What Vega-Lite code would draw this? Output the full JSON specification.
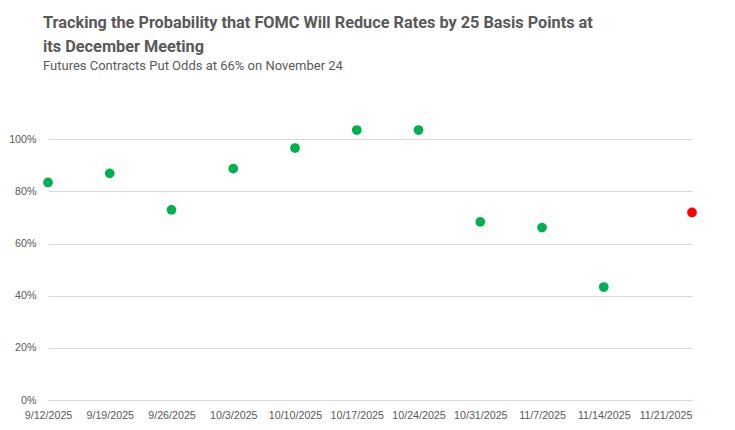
{
  "$schema": "https://vega.github.io/schema/vega-lite/v6.json",
  "width": 644,
  "height": 313,
  "autosize": {"type": "none"},
  "padding": {"left": 48, "top": 87, "right": 43, "bottom": 30},
  "background": "white",
  "config": {"view": {"stroke": null}},
  "title": {
    "text": ["Tracking the Probability that FOMC Will Reduce Rates by 25 Basis Points at", "its December Meeting"],
    "subtitle": "Futures Contracts Put Odds at 66% on November 24",
    "anchor": "start",
    "frame": "group",
    "dx": -5,
    "font": "Roboto",
    "fontSize": 16.3,
    "fontWeight": "bold",
    "color": "#595959",
    "lineHeight": 24,
    "subtitleFont": "Roboto",
    "subtitleFontSize": 13,
    "subtitleColor": "#595959",
    "subtitlePadding": 5,
    "offset": 14
  },
  "data": {
    "values": [
      {"date": "2025-09-12T00:00:00", "prob": 0.834, "kind": "past"},
      {"date": "2025-09-19T00:00:00", "prob": 0.869, "kind": "past"},
      {"date": "2025-09-26T00:00:00", "prob": 0.729, "kind": "past"},
      {"date": "2025-10-03T00:00:00", "prob": 0.887, "kind": "past"},
      {"date": "2025-10-10T00:00:00", "prob": 0.966, "kind": "past"},
      {"date": "2025-10-17T00:00:00", "prob": 1.035, "kind": "past"},
      {"date": "2025-10-24T00:00:00", "prob": 1.035, "kind": "past"},
      {"date": "2025-10-31T00:00:00", "prob": 0.683, "kind": "past"},
      {"date": "2025-11-07T00:00:00", "prob": 0.661, "kind": "past"},
      {"date": "2025-11-14T00:00:00", "prob": 0.433, "kind": "past"},
      {"date": "2025-11-24T00:00:00", "prob": 0.719, "kind": "latest"}
    ]
  },
  "mark": {"type": "point", "filled": true, "opacity": 1, "size": 95, "shape": "circle"},
  "encoding": {
    "x": {
      "field": "date",
      "type": "temporal",
      "scale": {"domain": [{"year": 2025, "month": 9, "date": 12}, {"year": 2025, "month": 11, "date": 24}]},
      "axis": {
        "title": null,
        "values": [
          {"year": 2025, "month": 9, "date": 12},
          {"year": 2025, "month": 9, "date": 19},
          {"year": 2025, "month": 9, "date": 26},
          {"year": 2025, "month": 10, "date": 3},
          {"year": 2025, "month": 10, "date": 10},
          {"year": 2025, "month": 10, "date": 17},
          {"year": 2025, "month": 10, "date": 24},
          {"year": 2025, "month": 10, "date": 31},
          {"year": 2025, "month": 11, "date": 7},
          {"year": 2025, "month": 11, "date": 14},
          {"year": 2025, "month": 11, "date": 21}
        ],
        "format": "%-m/%-d/%Y",
        "labelAngle": 0,
        "labelFlush": false,
        "labelOverlap": false,
        "labelBound": false,
        "grid": false,
        "ticks": false,
        "domain": true,
        "domainColor": "#d9d9d9",
        "labelFont": "Liberation Sans",
        "labelFontSize": 10.7,
        "labelColor": "#595959",
        "labelPadding": 10
      }
    },
    "y": {
      "field": "prob",
      "type": "quantitative",
      "scale": {"domain": [0, 1.2], "nice": false},
      "axis": {
        "title": null,
        "values": [0, 0.2, 0.4, 0.6, 0.8, 1.0],
        "format": ".0%",
        "grid": true,
        "gridColor": "#d9d9d9",
        "domain": false,
        "ticks": false,
        "labelFont": "Liberation Sans",
        "labelFontSize": 10.7,
        "labelColor": "#595959",
        "labelPadding": 12
      }
    },
    "color": {
      "field": "kind",
      "type": "nominal",
      "scale": {"domain": ["past", "latest"], "range": ["#00B050", "#FF0000"]},
      "legend": null
    }
  }
}
